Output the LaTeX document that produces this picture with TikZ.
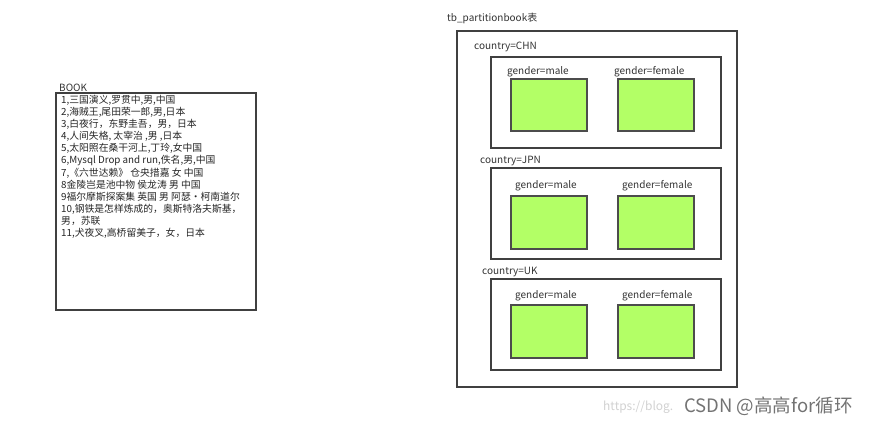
\documentclass[tikz,border=0pt]{standalone}
\usepackage{fontspec}
\setmainfont{Noto Sans CJK SC}
\begin{document}
\begin{tikzpicture}[x=1pt,y=-1pt,
  frame/.style={draw=black!75,line width=1.2pt},
  green/.style={draw=black!70,line width=1.2pt,fill=gbox},
  lbl/.style={inner sep=0pt,anchor=west,text=black!80,font=\fontsize{10}{11}\selectfont},
  booktxt/.style={inner sep=0pt,anchor=north west,align=left,text=black!85,font=\fontsize{9.8}{12.1}\selectfont}]
\definecolor{gbox}{HTML}{B3FF66}
\useasboundingbox (0,0) rectangle (880,425);
% BOOK
\node[lbl] (booklbl) at (59,88) {BOOK};
\draw[frame] (56,93) rectangle (256,310);
\node[booktxt] (booklines) at (61,95) {1,三国演义,罗贯中,男,中国\\
2,海贼王,尾田荣一郎,男,日本\\
3,白夜行，东野圭吾，男，日本\\
4,人间失格, 太宰治 ,男 ,日本\\
5,太阳照在桑干河上,丁玲,女中国\\
6,Mysql Drop and run,佚名,男,中国\\
7,《六世达赖》 仓央措嘉 女 中国\\
8金陵岂是池中物 侯龙涛 男 中国\\
9福尔摩斯探案集 英国 男 阿瑟·柯南道尔\\
10,钢铁是怎样炼成的，奥斯特洛夫斯基，\\
男，苏联\\
11,犬夜叉,高桥留美子，女，日本};
% partition table
\node[lbl] (tbl) at (447,18) {tb\_partitionbook表};
\draw[frame] (457,31) rectangle (737,387);
% CHN
\node[lbl] (chn) at (474,47) {country=CHN};
\draw[frame] (491,57) rectangle (721,148);
\node[lbl] (chnm) at (507,72) {gender=male};
\node[lbl] (chnf) at (614,72) {gender=female};
\draw[green] (511,79) rectangle (587,131);
\draw[green] (618,79) rectangle (694,131);
% JPN
\node[lbl] (jpn) at (480,161) {country=JPN};
\draw[frame] (491,168) rectangle (721,259);
\node[lbl] (jpnm) at (515,186) {gender=male};
\node[lbl] (jpnf) at (622,186) {gender=female};
\draw[green] (511,196) rectangle (587,249);
\draw[green] (618,196) rectangle (694,249);
% UK
\node[lbl] (uk) at (482,272) {country=UK};
\draw[frame] (491,279) rectangle (721,370);
\node[lbl] (ukm) at (515,296) {gender=male};
\node[lbl] (ukf) at (622,296) {gender=female};
\draw[green] (511,305) rectangle (587,358);
\draw[green] (618,305) rectangle (694,358);
% watermark
\node[inner sep=0pt,anchor=west,text=black!18,font=\fontsize{12}{13}\selectfont] (url) at (603,407) {https://blog.};
\node[inner sep=0pt,anchor=west,text=black!55,font=\fontsize{18.5}{19}\selectfont] (csdn) at (684,406) {CSDN @高高for循环};
\end{tikzpicture}
\end{document}
